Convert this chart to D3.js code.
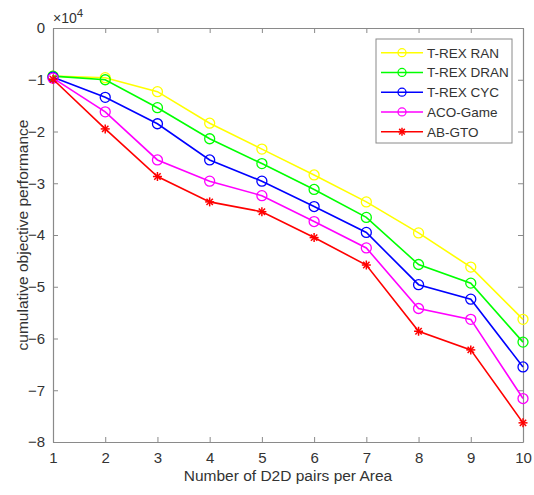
<!DOCTYPE html>
<html>
<head>
<meta charset="utf-8">
<script src="https://cdn.jsdelivr.net/npm/d3@7"></script>
<style>
  body { margin: 0; background: #fff; }
  text { font-family: "Liberation Sans", Arial, sans-serif; }
</style>
</head>
<body>
<div id="chart"></div>
<script>
// data (values in units of 1e4)
const xValues = [1, 2, 3, 4, 5, 6, 7, 8, 9, 10];
const trexRan = [-0.93, -0.96, -1.23, -1.84, -2.34, -2.84, -3.36, -3.96, -4.62, -5.63];
const trexDran = [-0.93, -1.0, -1.54, -2.14, -2.62, -3.12, -3.66, -4.57, -4.93, -6.07];
const trexCyc = [-0.95, -1.34, -1.85, -2.55, -2.96, -3.45, -3.95, -4.96, -5.24, -6.55];
const acoGame = [-0.97, -1.62, -2.55, -2.96, -3.24, -3.74, -4.25, -5.42, -5.63, -7.16];
const abGto = [-0.99, -1.95, -2.87, -3.36, -3.55, -4.05, -4.58, -5.86, -6.22, -7.63];
const seriesNames = ["T-REX RAN", "T-REX DRAN", "T-REX CYC", "ACO-Game", "AB-GTO"];
const seriesColors = ["#ffff00", "#00ff00", "#0000ff", "#ff00ff", "#ff0000"];
const seriesMarkers = ["circle", "circle", "circle", "circle", "star"];
const yTicks = [0, -1, -2, -3, -4, -5, -6, -7, -8];

const allSeries = [trexRan, trexDran, trexCyc, acoGame, abGto];

const width = 534, height = 495;
const margin = {top: 28, right: 11, bottom: 53, left: 53};
const axisColor = "#8a8a8a";
const textColor = "#333";

const svg = d3.select("#chart").append("svg")
    .attr("width", width)
    .attr("height", height);

const scaleX = d3.scaleLinear()
    .domain([1, 10])
    .range([margin.left, width - margin.right]);

const scaleY = d3.scaleLinear()
    .domain([-8, 0])
    .range([height - margin.bottom, margin.top]);

const tickLen = 5;

// axes (MATLAB style, ticks pointing inward, boxed)
const bottomAxis = svg.append("g")
    .attr("transform", `translate(0, ${scaleY(-8)})`)
    .call(d3.axisBottom(scaleX).tickValues(xValues).tickSizeInner(-tickLen).tickSizeOuter(0).tickPadding(10));
const leftAxis = svg.append("g")
    .attr("transform", `translate(${scaleX(1)}, 0)`)
    .call(d3.axisLeft(scaleY).tickValues(yTicks).tickSizeInner(-tickLen).tickSizeOuter(0).tickPadding(8));
const topAxis = svg.append("g")
    .attr("transform", `translate(0, ${scaleY(0)})`)
    .call(d3.axisTop(scaleX).tickValues(xValues).tickSizeInner(-tickLen).tickSizeOuter(0).tickFormat(""));
const rightAxis = svg.append("g")
    .attr("transform", `translate(${scaleX(10)}, 0)`)
    .call(d3.axisRight(scaleY).tickValues(yTicks).tickSizeInner(-tickLen).tickSizeOuter(0).tickFormat(""));

[bottomAxis, leftAxis, topAxis, rightAxis].forEach(g => {
  g.select(".domain").attr("stroke", axisColor).attr("stroke-width", 1.2);
  g.selectAll(".tick line").attr("stroke", axisColor);
  g.selectAll(".tick text")
      .attr("fill", textColor)
      .style("font-size", "15px")
      .style("font-family", "Liberation Sans, Arial, sans-serif");
});

// exponent label
const expo = svg.append("text")
    .attr("x", scaleX(1))
    .attr("y", 23)
    .attr("fill", textColor)
    .style("font-size", "14px");
expo.append("tspan").text("\u00d710");
expo.append("tspan").attr("dy", -6).style("font-size", "11.5px").text("4");

// axis labels
svg.append("text")
    .attr("x", (scaleX(1) + scaleX(10)) / 2)
    .attr("y", 481)
    .attr("text-anchor", "middle")
    .attr("fill", textColor)
    .style("font-size", "15.5px")
    .text("Number of D2D pairs per Area");

svg.append("text")
    .attr("transform", `translate(28, ${(scaleY(0) + scaleY(-8)) / 2}) rotate(-90)`)
    .attr("text-anchor", "middle")
    .attr("fill", textColor)
    .style("font-size", "15.5px")
    .text("cumulative objective performance");

// lines and markers
const line = d3.line()
    .x((d, i) => scaleX(xValues[i]))
    .y(d => scaleY(d));

function drawMarker(g, type, color, x, y, r) {
  if (type === "circle") {
    g.append("circle")
        .attr("cx", x).attr("cy", y).attr("r", r)
        .attr("fill", "none")
        .attr("stroke", color)
        .attr("stroke-width", 1.3);
  } else {
    [0, 45, 90, 135].forEach(a => {
      const rad = a * Math.PI / 180;
      g.append("line")
          .attr("x1", x - r * Math.cos(rad)).attr("y1", y - r * Math.sin(rad))
          .attr("x2", x + r * Math.cos(rad)).attr("y2", y + r * Math.sin(rad))
          .attr("stroke", color)
          .attr("stroke-width", 1.5);
    });
  }
}

allSeries.forEach((vals, s) => {
  const g = svg.append("g");
  g.append("path")
      .datum(vals)
      .attr("d", line)
      .attr("fill", "none")
      .attr("stroke", seriesColors[s])
      .attr("stroke-width", 1.6);
  vals.forEach((v, i) => drawMarker(g, seriesMarkers[s], seriesColors[s], scaleX(xValues[i]), scaleY(v), seriesMarkers[s] === "circle" ? 5 : 4.5));
});

// legend
const legend = svg.append("g").attr("transform", "translate(376, 39)");
legend.append("rect")
    .attr("width", 136)
    .attr("height", 104)
    .attr("fill", "#fff")
    .attr("stroke", axisColor)
    .attr("stroke-width", 1);

seriesNames.forEach((name, i) => {
  const y = 13.7 + i * 19.75;
  legend.append("line")
      .attr("x1", 5).attr("x2", 47)
      .attr("y1", y).attr("y2", y)
      .attr("stroke", seriesColors[i])
      .attr("stroke-width", 1.6);
  drawMarker(legend, seriesMarkers[i], seriesColors[i], 26, y, 4);
  legend.append("text")
      .attr("x", 51)
      .attr("y", y + 5)
      .attr("fill", textColor)
      .style("font-size", "13.5px")
      .text(name);
});
</script>
</body>
</html>
